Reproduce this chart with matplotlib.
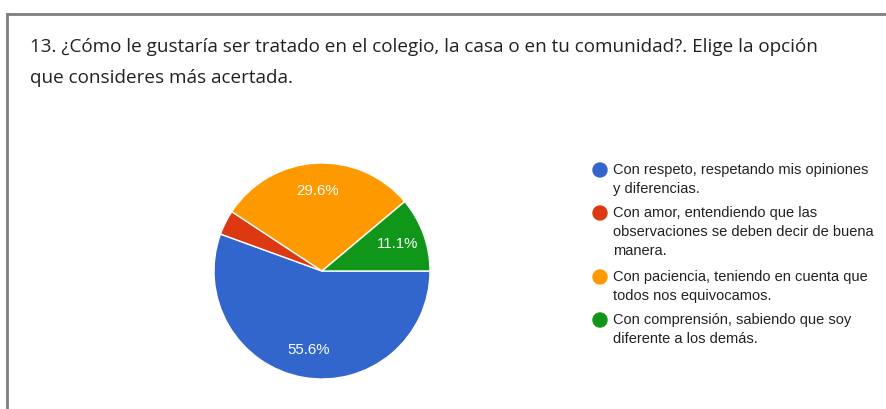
import matplotlib
matplotlib.use('Agg')
import matplotlib.pyplot as plt
from matplotlib.lines import Line2D
from matplotlib.patches import Ellipse

# -- data -------------------------------------------------------------------
title = ('13. ¿Cómo le gustaría ser tratado en el colegio, la casa o en tu comunidad?. Elige la opción\n'
         'que consideres más acertada.')
labels = [
    'Con respeto, respetando mis opiniones\ny diferencias.',
    'Con amor, entendiendo que las\nobservaciones se deben decir de buena\nmanera.',
    'Con paciencia, teniendo en cuenta que\ntodos nos equivocamos.',
    'Con comprensión, sabiendo que soy\ndiferente a los demás.',
]
counts = [15, 1, 8, 3]
colors = ['#3366cc', '#dc3912', '#ff9900', '#109618']

W, H = 886, 409
fig = plt.figure(figsize=(W / 100, H / 100), dpi=100)


def px(x, y):
    return x / W, 1 - y / H


# card border (top and left edges only)
fig.add_artist(Line2D([7 / W, 7 / W], [0, 1 - 14 / H], color='#7f7f7f', lw=2,
                      transform=fig.transFigure))
fig.add_artist(Line2D([7 / W, 1], [1 - 14 / H, 1 - 14 / H], color='#7f7f7f', lw=2,
                      transform=fig.transFigure))

fig.text(*px(30, 38), title, fontsize=13.6, family='Open Sans', color='#202124',
         va='top', ha='left', linespacing=1.95)

# -- pie --------------------------------------------------------------------
cx, cy, r = 322, 271, 108
ax = fig.add_axes([(cx - r) / W, 1 - (cy + r) / H, 2 * r / W, 2 * r / H])
wedges, _, autotexts = ax.pie(
    counts, colors=colors, startangle=0, counterclock=False,
    autopct=lambda p: f'{p:.1f}%' if p > 5 else '', pctdistance=0.74,
    wedgeprops=dict(edgecolor='white', linewidth=1),
    textprops=dict(color='white', fontsize=10.8, family='Liberation Sans'))
ax.set_aspect('equal')
ax.set_xlim(-1, 1)
ax.set_ylim(-1, 1)
ax.axis('off')

# -- legend -----------------------------------------------------------------
y = 170
for lab, col in zip(labels, colors):
    fig.add_artist(Ellipse(px(600, y), 14 / W, 14 / H, color=col,
                           transform=fig.transFigure))
    fig.text(*px(613, y - 7), lab, fontsize=10.5, family='Liberation Sans',
             color='#222222', va='top', ha='left', linespacing=1.45)
    y += 21 * (lab.count('\n') + 1) + 1

fig.savefig('out.png', dpi=100)
